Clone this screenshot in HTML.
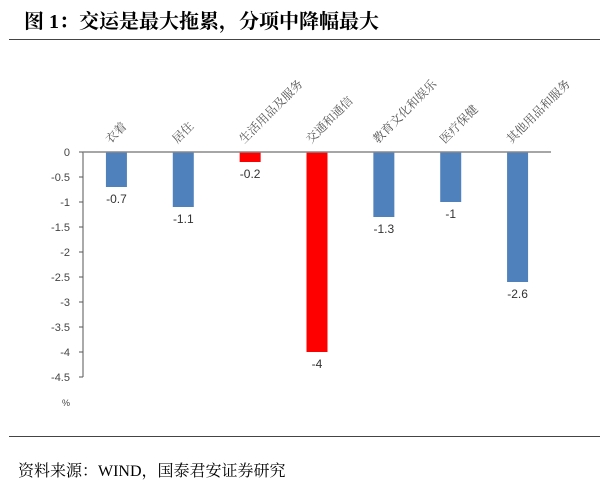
<!DOCTYPE html>
<html><head><meta charset="utf-8">
<style>
html,body{margin:0;padding:0;background:#fff;}
body{width:600px;height:485px;position:relative;overflow:hidden;}
.title{position:absolute;left:24px;top:5px;font:bold 20px "Liberation Serif","Noto Serif CJK SC",serif;color:#000;}
.rule{position:absolute;left:9px;width:591px;height:1px;background:#444;}
.src{position:absolute;left:18px;top:458px;font:16px "Liberation Serif","Noto Serif CJK SC",serif;color:#000;}
</style></head><body>
<div class="title">图 1：交运是最大拖累，分项中降幅最大</div>
<div class="rule" style="top:39px"></div>
<svg id="chart" width="600" height="485" style="position:absolute;left:0;top:0"></svg>
<div class="rule" style="top:436px"></div>
<div class="src">资料来源：WIND，国泰君安证券研究</div>
<script>
const categories=["衣着","居住","生活用品及服务","交通和通信","教育文化和娱乐","医疗保健","其他用品和服务"];
const values=[-0.7,-1.1,-0.2,-4,-1.3,-1,-2.6];
const highlight=[false,false,true,true,false,false,false];
const valueLabels=["-0.7","-1.1","-0.2","-4","-1.3","-1","-2.6"];
const ticks=[0,-0.5,-1,-1.5,-2,-2.5,-3,-3.5,-4,-4.5];
const tickLabels=["0","-0.5","-1","-1.5","-2","-2.5","-3","-3.5","-4","-4.5"];
const NS="http://www.w3.org/2000/svg";
const svg=document.getElementById('chart');
const x0=83,x1=551,y0=152,pxPerUnit=50;
const y=v=>y0-v*pxPerUnit;
const bw=(x1-x0)/categories.length;
const xc=i=>x0+bw*(i+0.5);
function mk(t,a){const e=document.createElementNS(NS,t);for(const k in a)e.setAttribute(k,a[k]);svg.appendChild(e);return e;}
let ax=mk('line',{x1:x0,y1:y0,x2:x0,y2:y(-4.5),stroke:'#555','stroke-width':1});


ticks.forEach((t,i)=>{
  let tk=mk('line',{x1:x0-4,y1:y(t),x2:x0,y2:y(t),stroke:'#555','stroke-width':1});
  
  
  let tx=mk('text',{x:x0-13,y:y(t)+4,'text-anchor':'end','font-family':'Liberation Sans, sans-serif','font-size':11,fill:'#444'});
  tx.textContent=tickLabels[i];
  
  
});
let unit=mk('text',{x:66,y:406,'text-anchor':'middle','font-family':'Liberation Sans, sans-serif','font-size':9,fill:'#444'});
unit.textContent='%';


values.forEach((v,i)=>{
  const bwid=21;
  let r=mk('rect',{x:xc(i)-bwid/2,y:y0,width:bwid,height:y(v)-y0,fill:highlight[i]?'#ff0000':'#4f81bd'});
  
  
  let lb=mk('text',{x:xc(i),y:y(v)+16,'text-anchor':'middle','font-family':'Liberation Sans, sans-serif','font-size':12,fill:'#333'});
  lb.textContent=valueLabels[i];
  
  
  let cl=mk('text',{x:0,y:0,'text-anchor':'start','font-family':'Noto Serif CJK SC, serif','font-size':12,fill:'#555',transform:`translate(${xc(i)-6},${y0-8}) rotate(-45)`});
  cl.textContent=categories[i];
  
  
});
let xa=mk('line',{x1:x0,y1:y0,x2:x1,y2:y0,stroke:'#888','stroke-width':1.5});


</script>
</body></html>
